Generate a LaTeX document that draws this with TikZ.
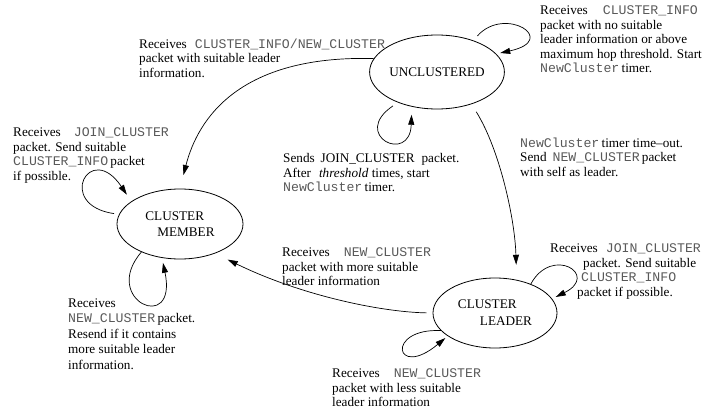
\documentclass[tikz,border=0pt]{standalone}
\usepackage{fontspec}
\setmainfont{Liberation Serif}
\setmonofont{Liberation Mono}
\usetikzlibrary{shapes.geometric,arrows.meta}
\newcommand{\cmono}[1]{{\ttfamily\color{black!65}#1}}
\begin{document}
\begin{tikzpicture}[x=1pt,y=-1pt,
  state/.style={ellipse,draw,line width=0.8pt,inner sep=0pt},
  lbl/.style={anchor=north west,inner sep=0pt,align=left,font=\fontsize{13.2}{14.5}\selectfont},
  arr/.style={line width=0.7pt,-{Triangle[length=10pt,width=6pt]}},
  every node/.append style={font=\fontsize{13.2}{14.5}\selectfont}]
\useasboundingbox (0,0) rectangle (704,409);
% states
\node[state,minimum width=120pt,minimum height=74pt] (u) at (437,72) {UNCLUSTERED};
\node[state,minimum width=126pt,minimum height=70pt,align=left] (m) at (180,224) {CLUSTER\\[1.5pt]\hspace*{12pt}MEMBER};
\node[state,minimum width=124pt,minimum height=70pt,align=left] (l) at (495,313) {CLUSTER\\[2.5pt]\hspace*{22pt}LEADER};
% labels
\node[lbl] (t1) at (139,38.5) {Receives\hspace{8pt}\cmono{CLUSTER\_INFO/NEW\_CLUSTER}\\packet with suitable leader\\information.};
\node[lbl] (t2) at (540,5.5) {Receives\hspace{15pt}\cmono{CLUSTER\_INFO}\\packet with no suitable\\leader information or above\\maximum hop threshold. Start\\\cmono{NewCluster}\,timer.};
\node[lbl] (t3) at (13,127.5) {Receives\hspace{13pt}\cmono{JOIN\_CLUSTER}\\packet. Send suitable\\\cmono{CLUSTER\_INFO}\,packet\\if possible.};
\node[lbl] (t4) at (283,153.5) {Sends\hspace{6pt}JOIN\_CLUSTER\hspace{7pt}packet.\\After\hspace{8pt}\textit{threshold} times, start\\\cmono{NewCluster}\,timer.};
\node[lbl] (t5) at (520,137.5) {\cmono{NewCluster}\,timer time--out.\\Send\hspace{6pt}\cmono{NEW\_CLUSTER}\,packet\\with self as leader.};
\node[lbl] (t6) at (282,247.5) {Receives\hspace{14pt}\cmono{NEW\_CLUSTER}\\packet with more suitable\\leader information};
\node[lbl] (t7) at (550,243.5) {Receives\hspace{8pt}\cmono{JOIN\_CLUSTER}\\\hspace*{33pt}packet. Send suitable\\\hspace*{31pt}\cmono{CLUSTER\_INFO}\\\hspace*{27pt}packet if possible.};
\node[lbl,font=\fontsize{13.2}{15.5}\selectfont] (t8) at (68,298.5) {Receives\\\cmono{NEW\_CLUSTER}\,packet.\\Resend if it contains\\more suitable leader\\information.};
\node[lbl] (t9) at (332,368.5) {Receives\hspace{14pt}\cmono{NEW\_CLUSTER}\\packet with less suitable\\leader information};
% transitions
\draw[arr,shorten <=6pt,shorten >=4pt] (u.41) .. controls (505,5) and (560,40) .. (u.17);
\draw[arr,shorten <=6pt,shorten >=8pt] (u.218) .. controls (350,135) and (410,165) .. (u.234);
\draw[arr,shorten <=5pt,shorten >=8pt] (m.171) .. controls (55,205) and (90,140) .. (m.155);
\draw[arr,shorten >=5pt] (m.216) .. controls (100,300) and (178,335) .. (m.242);
\draw[arr,shorten >=4pt] (l.39) .. controls (552,245) and (600,275) .. (l.14.5);
\draw[arr,shorten >=3pt] (l.198) .. controls (385,328) and (395,380) .. (l.206);
\draw[arr,shorten >=14pt] (u.168) .. controls (240,55) and (198,118) .. (m.north);
\draw[arr,shorten <=9pt,shorten >=15pt] (u.-43.5) .. controls (500,150) and (515,220) .. (l.57);
\draw[arr,shorten <=6pt,shorten >=14pt] (l.west) .. controls (380,312) and (300,295) .. (m.-40);
\end{tikzpicture}
\end{document}
